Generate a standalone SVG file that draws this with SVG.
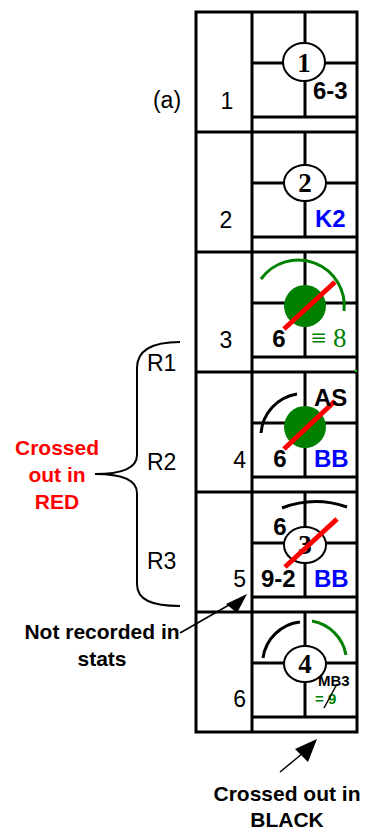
<svg xmlns="http://www.w3.org/2000/svg" width="366" height="830" viewBox="0 0 366 830">
<style>
.grid{fill:none;stroke:#000;stroke-width:3}
.circ{fill:#fff;stroke:#000;stroke-width:2}
.num{font-family:"Liberation Serif","Times New Roman",serif;font-weight:bold;font-size:27px;text-anchor:middle}
.lbl{font-family:"Liberation Sans",Arial,sans-serif;font-size:23px}
.b{font-family:"Liberation Sans",Arial,sans-serif;font-weight:bold;font-size:24px}
.blue{fill:#0000ff}
.green{fill:#008000}
.red{stroke:#ff0000;stroke-width:5;fill:none}
.arcb{fill:none;stroke:#000;stroke-width:3}
.arcg{fill:none;stroke:#008000;stroke-width:3}
.note{font-family:"Liberation Sans",Arial,sans-serif;font-weight:bold;font-size:21px;text-anchor:middle}
.sm{font-family:"Liberation Sans",Arial,sans-serif;font-weight:bold;font-size:15px}
</style>
<rect width="366" height="830" fill="#fff"/>
<g id="grid" class="grid">
<rect x="196" y="12" width="161" height="720"/>
<path d="M252,12V732 M196,132H357 M196,252H357 M196,372H357 M196,492H357 M196,612H357
M252,63H357 M252,117H357 M305,12V117
M252,183H357 M252,237H357 M305,132V237
M252,303H357 M252,357H357 M305,252V357
M252,423H357 M252,477H357 M305,372V477
M252,543H357 M252,597H357 M305,492V597
M252,663H357 M252,717H357 M305,612V717"/>
</g>
<text x="167" y="108" class="lbl" text-anchor="middle">(a)</text>
<g id="row1">
<text x="227" y="109" class="lbl" text-anchor="middle">1</text>
<ellipse cx="304" cy="62" rx="21" ry="19" class="circ"/>
<text x="304" y="72" class="num">1</text>
<text x="313" y="99" class="b">6-3</text>
</g>
<g id="row2">
<text x="226" y="228" class="lbl" text-anchor="middle">2</text>
<ellipse cx="305" cy="183" rx="21" ry="18" class="circ"/>
<text x="305" y="192" class="num">2</text>
<text x="315" y="227" class="b blue">K2</text>
</g>
<g id="row3">
<text x="226" y="348" class="lbl" text-anchor="middle">3</text>
<path d="M261,279 A46,46 0 0 1 344,311" class="arcg"/>
<circle cx="305" cy="306" r="21" fill="#008000"/>
<line x1="284" y1="329" x2="335" y2="282" class="red"/>
<text x="279" y="347" class="b" text-anchor="middle">6</text>
<text x="311" y="347" font-family="Liberation Serif, Times New Roman, serif" font-size="27" class="green">≡ 8</text>
<rect x="355" y="370" width="2" height="2" fill="#00cc00"/>
</g>
<g id="row4">
<text x="246" y="468" class="lbl" text-anchor="end">4</text>
<path d="M261,433 A43,43 0 0 1 297,394" class="arcb"/>
<circle cx="305" cy="427" r="21" fill="#008000"/>
<line x1="284" y1="449" x2="335" y2="401" class="red"/>
<text x="314" y="406" class="b">AS</text>
<text x="280" y="467" class="b" text-anchor="middle">6</text>
<text x="314" y="467" class="b blue">BB</text>
</g>
<g id="row5">
<text x="246" y="587" class="lbl" text-anchor="end">5</text>
<path d="M282,508 A94,94 0 0 1 347,507" class="arcb"/>
<text x="280" y="535" class="b" text-anchor="middle">6</text>
<ellipse cx="305" cy="545" rx="21" ry="18" class="circ"/>
<text x="305" y="554" class="num">3</text>
<line x1="285" y1="567" x2="337" y2="519" class="red"/>
<text x="261" y="587" class="b">9-2</text>
<text x="314" y="587" class="b blue">BB</text>
</g>
<g id="row6">
<text x="246" y="707" class="lbl" text-anchor="end">6</text>
<path d="M263,658 A42,42 0 0 1 300,622" class="arcb"/>
<path d="M312,621 A42,42 0 0 1 346,655" class="arcg"/>
<ellipse cx="305" cy="664" rx="21" ry="18" class="circ"/>
<text x="305" y="673" class="num">4</text>
<text x="318" y="686" class="sm">MB3</text>
<text x="315" y="704" class="sm green">= 9</text>
<line x1="324" y1="708" x2="337" y2="684" stroke="#000" stroke-width="1.5"/>
</g>
<g id="brace">
<path d="M180,342 C152,342 137,350 137,368 L137,455 C137,468 122,474 95,474 C122,474 137,480 137,493 L137,584 C137,600 152,606 180,606" fill="none" stroke="#000" stroke-width="2"/>
<text x="147" y="371" class="lbl" font-size="24">R1</text>
<text x="147" y="470" class="lbl" font-size="24">R2</text>
<text x="147" y="569" class="lbl" font-size="24">R3</text>
</g>
<g id="note-red" fill="#ff0000">
<text x="57" y="455" class="note">Crossed</text>
<text x="57" y="482" class="note">out in</text>
<text x="57" y="509" class="note">RED</text>
</g>
<g id="note-stats">
<text x="102" y="639" class="note">Not recorded in</text>
<text x="102" y="666" class="note">stats</text>
</g>
<g id="note-black">
<text x="287" y="801" class="note">Crossed out in</text>
<text x="287" y="827" class="note">BLACK</text>
</g>
<g id="connectors">
<line x1="180" y1="633" x2="236" y2="601" stroke="#000" stroke-width="1.5"/>
<polygon points="247,594 226,604 237,613" fill="#000"/>
<line x1="280" y1="772" x2="303" y2="753" stroke="#000" stroke-width="1.5"/>
<polygon points="317,739 295,749 308,762" fill="#000"/>
</g>
</svg>
